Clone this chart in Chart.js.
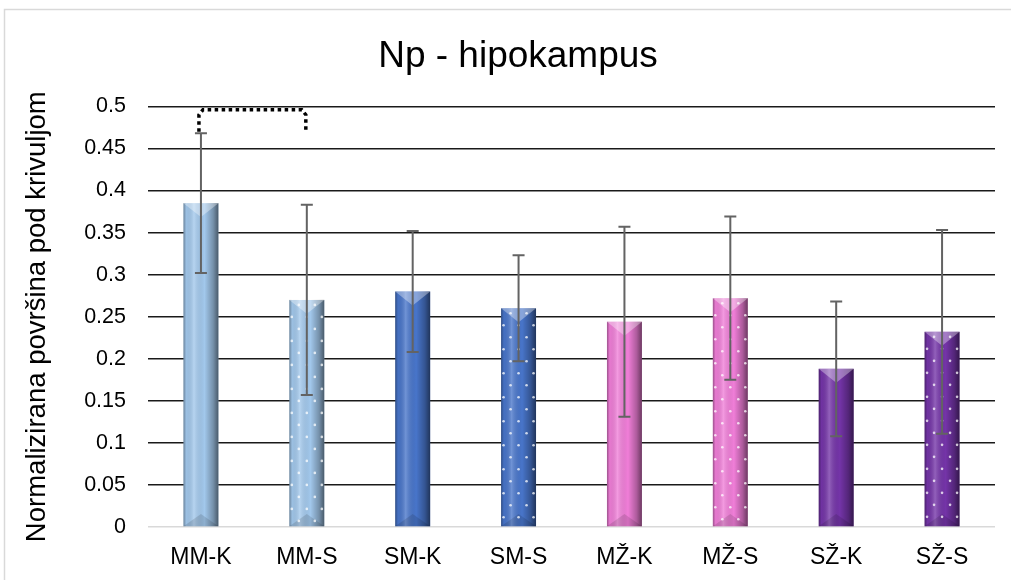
<!DOCTYPE html>
<html lang="hr">
  <head>
    <meta charset="UTF-8" />
    <title>Np - hipokampus</title>
    <script src="https://cdn.jsdelivr.net/npm/chart.js@4"></script>
    <style>
      body { margin: 0; background: #fff; }
      #wrap { width: 1011px; height: 580px; }
    </style>
  </head>
  <body>
    <div id="wrap"><canvas id="np-chart" width="1011" height="580"></canvas></div>

    <script>
      // podaci očitani sa slike
      const categories = ["MM-K", "MM-S", "SM-K", "SM-S", "MŽ-K", "MŽ-S", "SŽ-K", "SŽ-S"];
      const means = [0.385, 0.270, 0.280, 0.260, 0.244, 0.272, 0.188, 0.232];
      const errors = [0.083, 0.113, 0.072, 0.063, 0.113, 0.097, 0.080, 0.121];
      const barColors = ["#a2c8ec", "#a2c8ec", "#4875ca", "#4875ca", "#f07ed8", "#f07ed8", "#7434a8", "#7434a8"];
      const dotted = [false, true, false, true, false, true, false, true];
      // isprekidana zagrada između MM-K i MM-S
      const bracketPair = [0, 1];
      const bracketLevel = 0.496;
      const bracketEnds = [0.47, 0.472];

      const FONT = "'Liberation Sans', Arial, sans-serif";

      const framePlugin = {
        id: "frame",
        beforeDraw(chart) {
          const ctx = chart.ctx;
          ctx.save();
          ctx.fillStyle = "#fff";
          ctx.fillRect(0, 0, chart.width, chart.height);
          ctx.strokeStyle = "#d9d9d9";
          ctx.lineWidth = 1.5;
          ctx.strokeRect(4.5, 9.5, chart.width + 10, chart.height + 10);
          ctx.restore();
        },
      };

      // 3D izgled stupaca, točkice, error barovi i zagrada
      const decorPlugin = {
        id: "decor",
        afterDatasetsDraw(chart) {
          const ctx = chart.ctx;
          const y = chart.scales.y;
          const bars = chart.getDatasetMeta(0).data;
          ctx.save();
          bars.forEach((bar, i) => {
            const w = bar.width;
            const l = bar.x - w / 2;
            const top = bar.y;
            const base = bar.base;
            const g = ctx.createLinearGradient(l, 0, l + w, 0);
            g.addColorStop(0, "rgba(0,0,0,0.35)");
            g.addColorStop(0.08, "rgba(0,0,0,0.04)");
            g.addColorStop(0.3, "rgba(255,255,255,0.22)");
            g.addColorStop(0.6, "rgba(0,0,0,0.0)");
            g.addColorStop(0.85, "rgba(0,0,0,0.28)");
            g.addColorStop(1, "rgba(0,0,0,0.55)");
            ctx.fillStyle = g;
            ctx.fillRect(l, top, w, base - top);

            // gornji kosi rub
            ctx.fillStyle = "rgba(255,255,255,0.35)";
            ctx.beginPath();
            ctx.moveTo(l, top);
            ctx.lineTo(l + w, top);
            ctx.lineTo(bar.x, top + w * 0.4);
            ctx.closePath();
            ctx.fill();
            // donji kosi rub
            ctx.fillStyle = "rgba(0,0,0,0.12)";
            ctx.beginPath();
            ctx.moveTo(l, base);
            ctx.lineTo(l + w, base);
            ctx.lineTo(bar.x, base - w * 0.35);
            ctx.closePath();
            ctx.fill();

            if (dotted[i]) {
              ctx.fillStyle = "rgba(255,255,255,0.75)";
              let row = 0;
              for (let yy = top + 5; yy < base - 3; yy += 12, row++) {
                const offs = row % 2 === 0 ? [-8, 8] : [-15, 0, 15];
                offs.forEach((o) => {
                  ctx.beginPath();
                  ctx.arc(bar.x + o, yy, 1.3, 0, Math.PI * 2);
                  ctx.fill();
                });
              }
            }
          });

          // error barovi
          ctx.strokeStyle = "#636363";
          ctx.lineWidth = 2;
          bars.forEach((bar, i) => {
            const hi = y.getPixelForValue(means[i] + errors[i]);
            const lo = y.getPixelForValue(means[i] - errors[i]);
            ctx.beginPath();
            ctx.moveTo(bar.x, hi);
            ctx.lineTo(bar.x, lo);
            ctx.moveTo(bar.x - 6, hi);
            ctx.lineTo(bar.x + 6, hi);
            ctx.moveTo(bar.x - 6, lo);
            ctx.lineTo(bar.x + 6, lo);
            ctx.stroke();
          });

          // zagrada
          const x0 = bars[bracketPair[0]].x - 2;
          const x1 = bars[bracketPair[1]].x - 1;
          const yl = y.getPixelForValue(bracketLevel);
          ctx.strokeStyle = "#000";
          ctx.lineWidth = 3.5;
          ctx.setLineDash([3.5, 3.5]);
          ctx.beginPath();
          ctx.moveTo(x0, y.getPixelForValue(bracketEnds[0]));
          ctx.lineTo(x0, yl + 5);
          ctx.lineTo(x0 + 4, yl);
          ctx.lineTo(x1 - 4, yl);
          ctx.lineTo(x1, yl + 5);
          ctx.lineTo(x1, y.getPixelForValue(bracketEnds[1]));
          ctx.stroke();
          ctx.restore();
        },
      };

      const npChart = new Chart(document.getElementById("np-chart"), {
        type: "bar",
        data: {
          labels: categories,
          datasets: [
            {
              data: means,
              backgroundColor: barColors,
              borderWidth: 0,
              barPercentage: 0.33,
              categoryPercentage: 1,
            },
          ],
        },
        options: {
          responsive: false,
          animation: false,
          events: [],
          layout: { padding: { left: 41, right: 16, top: 0, bottom: 0 } },
          plugins: {
            legend: { display: false },
            tooltip: { enabled: false },
            title: {
              display: true,
              text: "Np - hipokampus",
              color: "#000",
              font: { family: FONT, size: 37, weight: "normal", lineHeight: 1.2 },
              padding: { top: 35, bottom: 27 },
            },
          },
          scales: {
            x: {
              grid: { display: false },
              border: { display: false },
              ticks: { color: "#000", font: { family: FONT, size: 23 }, padding: 9, maxRotation: 0 },
              afterFit(scale) { scale.height = 53; },
            },
            y: {
              min: 0,
              max: 0.5,
              border: { display: false },
              grid: {
                drawTicks: false,
                lineWidth: 1.5,
                color: (c) => (c.index === 0 ? "#d9d9d9" : "#1a1a1a"),
              },
              ticks: {
                stepSize: 0.05,
                padding: 22,
                color: "#000",
                font: { family: FONT, size: 21.5 },
                callback: (v) => String(+v.toFixed(2)),
              },
              title: {
                display: true,
                text: "Normalizirana površina pod krivuljom",
                color: "#000",
                font: { family: FONT, size: 27.5 },
                padding: { top: -20, bottom: 0 },
              },
              afterFit(scale) { scale.width = 107; },
            },
          },
        },
        plugins: [framePlugin, decorPlugin],
      });
    </script>
  </body>
</html>
